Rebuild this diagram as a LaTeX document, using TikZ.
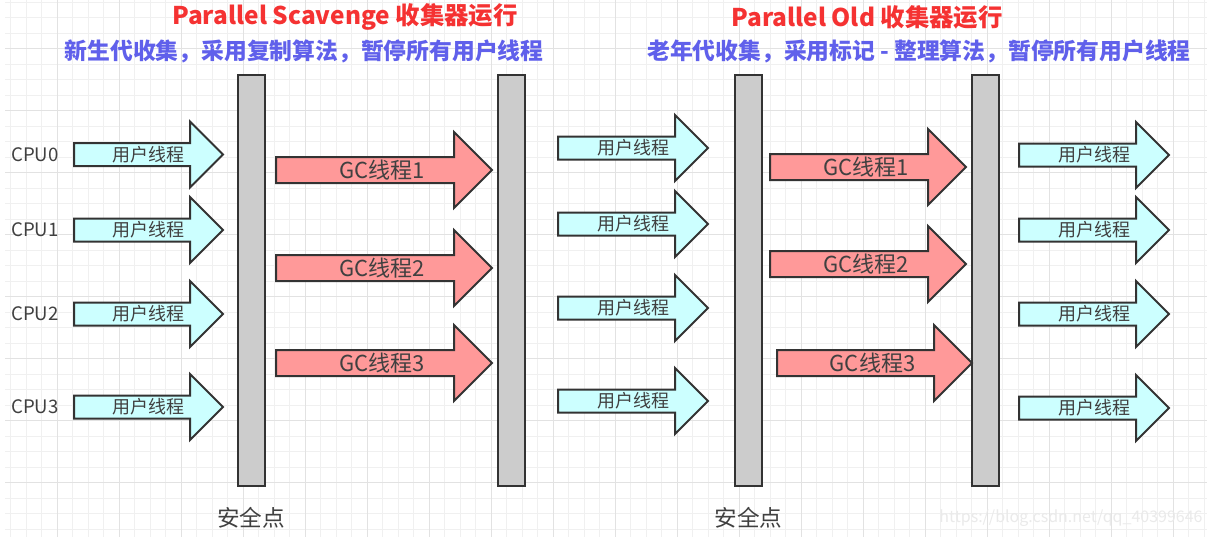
\documentclass[tikz,border=0pt]{standalone}
\usepackage{fontspec}
\setmainfont{Noto Sans CJK SC}
\usetikzlibrary{positioning}
\definecolor{GCcyan}{RGB}{204,255,255}
\definecolor{GCpink}{RGB}{255,153,153}
\definecolor{GCbar}{RGB}{204,204,204}
\definecolor{GCedge}{RGB}{51,51,51}
\definecolor{GCtext}{RGB}{64,64,64}
\definecolor{GCred}{RGB}{245,50,50}
\definecolor{GCblue}{RGB}{96,96,235}
\definecolor{GCgridlt}{RGB}{240,240,240}
\definecolor{GCgriddk}{RGB}{226,226,226}
\definecolor{GCmark}{RGB}{234,234,234}
\tikzset{
  uthread/.style={draw=GCedge,fill=GCcyan,line width=1pt},
  gthread/.style={draw=GCedge,fill=GCpink,line width=1pt},
  ulabel/.style={font=\fontsize{9}{11}\selectfont,text=GCtext,inner sep=0pt},
  glabel/.style={font=\fontsize{11}{13}\selectfont,text=GCtext,inner sep=0pt},
  cpulabel/.style={font=\fontsize{9.3}{11}\selectfont,text=GCtext,inner sep=0pt},
  sbar/.style={draw=GCedge,fill=GCbar,line width=1pt,minimum width=13.5pt,
               minimum height=205.5pt,inner sep=0pt},
  spnote/.style={font=\fontsize{11.3}{13}\selectfont,text=GCtext,inner sep=0pt},
  ttlred/.style={font=\bfseries\fontsize{12.2}{14}\selectfont,text=GCred,inner sep=0pt},
  ttlblue/.style={font=\bfseries\fontsize{11.4}{13}\selectfont,text=GCblue,inner sep=0pt},
  gridminor/.style={draw=GCgridlt,line width=0.5pt},
  gridmajor/.style={draw=GCgriddk,line width=0.5pt}
}
% name, left end, tip, middle line
\newcommand{\userthread}[4]{%
  \draw[uthread] (#2,#4-11.5) -- (#3-33,#4-11.5) -- (#3-33,#4-33) -- (#3,#4)
    -- (#3-33,#4+33) -- (#3-33,#4+11.5) -- (#2,#4+11.5) -- cycle;
  \node[ulabel] (#1) at ({(#2+#3)/2},#4) {用户线程};}
% name, left end, tip, middle line, label
\newcommand{\gcthread}[5]{%
  \draw[gthread] (#2,#4-13) -- (#3-38,#4-13) -- (#3-38,#4-38) -- (#3,#4)
    -- (#3-38,#4+38) -- (#3-38,#4+13) -- (#2,#4+13) -- cycle;
  \node[glabel] (#1) at ({(#2+#3)/2-2},#4) {#5};}

\begin{document}
\begin{tikzpicture}[x=0.5pt,y=-0.5pt]
  \useasboundingbox[fill=white] (0,0) rectangle (1214,546);
  \foreach \i in {0,...,77}
    {\draw[gridminor] ({10.8+15.5*\i},0) -- ({10.8+15.5*\i},537);}
  \foreach \j in {0,...,34}
    {\draw[gridminor] (5,{2.2+15.5*\j}) -- (1207,{2.2+15.5*\j});}
  \foreach \i in {0,...,18}
    {\draw[gridmajor] ({57.3+62*\i},0) -- ({57.3+62*\i},537);}
  \foreach \j in {0,...,7}
    {\draw[gridmajor] (5,{48.7+62*\j}) -- (1207,{48.7+62*\j});}

  \node[ttlred] (ttlps) at (345,17) {Parallel Scavenge 收集器运行};
  \node[ttlblue] (subps) at (304,51) {新生代收集，采用复制算法，暂停所有用户线程};
  \node[ttlred] (ttlpo) at (867,17) {Parallel Old 收集器运行};
  \node[ttlblue] (subpo) at (919,51) {老年代收集，采用标记 - 整理算法，暂停所有用户线程};

  \node[sbar] (bar1) at (251,280.5) {};
  \node[sbar] (bar2) at (511.5,280.5) {};
  \node[sbar] (bar3) at (748.5,280.5) {};
  \node[sbar] (bar4) at (985,280.5) {};
  \node[spnote,below=10pt of bar1] (safe1) {安全点};
  \node[spnote,below=10pt of bar3] (safe2) {安全点};

  \foreach \n/\y in {0/154.5,1/230,2/314,3/407} {
    \node[cpulabel] (cpu\n) at (35,\y) {CPU\n};
    \userthread{ua\n}{74}{223}{\y}
  }
  \foreach \n/\y in {0/148,1/224,2/308,3/401} {
    \userthread{ub\n}{558}{708}{\y}
  }
  \foreach \n/\y in {0/155,1/230,2/314,3/408} {
    \userthread{uc\n}{1019}{1169}{\y}
  }

  \gcthread{ga1}{276}{492}{170}{GC线程1}
  \gcthread{ga2}{276}{492}{268}{GC线程2}
  \gcthread{ga3}{276}{492}{363}{GC线程3}
  \gcthread{gb1}{770}{966}{167}{GC线程1}
  \gcthread{gb2}{770}{966}{264}{GC线程2}
  \gcthread{gb3}{777}{972}{363}{GC线程3}

  \node[font=\fontsize{8}{10}\selectfont,text=GCmark] (mark) at (1071,518)
    {https://blog.csdn.net/qq\_40399646};
\end{tikzpicture}
\end{document}
